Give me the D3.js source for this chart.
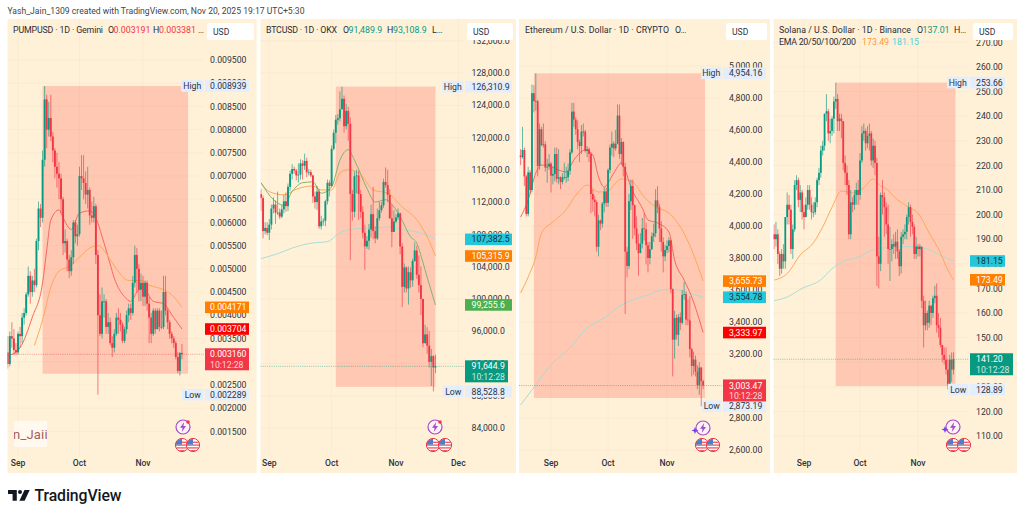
<!DOCTYPE html>
<html><head><meta charset="utf-8">
<script src="https://cdn.jsdelivr.net/npm/d3@7/dist/d3.min.js"></script>
<style>
html,body{margin:0;padding:0;background:#fff;overflow:hidden}
svg{display:block}
text{font-family:Roboto,"Liberation Sans",sans-serif}
</style></head><body><svg id="c" width="1024" height="517"></svg>
<script>
// ---------- data ----------
// PUMP prices in thousandths of a dollar
const pumpOpen0 = 3.2;
const pumpClose = [2.95,3.55,3.50,3.25,3.20,3.60,3.55,3.95,4.05,4.45,4.85,4.50,4.75,4.65,5.60,6.30,6.10,7.35,8.65,8.0,8.25,7.85,7.55,7.2,7.05,6.95,6.50,5.55,5.60,5.20,4.95,5.25,6.00,5.70,5.75,7.00,6.95,6.85,6.60,6.70,6.15,6.10,6.35,5.30,4.00,3.60,4.30,4.30,3.75,3.85,3.40,3.30,3.60,3.95,3.90,3.80,3.45,3.70,4.00,4.15,4.05,4.70,5.30,5.00,4.55,4.70,4.40,4.70,4.25,3.95,3.60,4.10,3.70,4.10,3.75,3.75,4.50,4.10,3.85,3.60,3.50,3.40,3.10,2.80,3.19,3.16];
const pumpHigh = [3.55,3.65,3.85,3.7,3.4,3.65,3.75,4.05,4.15,4.5,5.05,4.95,4.85,5.0,5.65,6.45,6.4,7.55,8.939,8.75,8.6,8.75,7.95,7.6,7.5,7.3,7.05,6.55,5.85,5.65,5.3,5.4,6.05,6.05,5.95,7.2,7.45,7.45,7.1,7.2,6.75,6.45,6.55,6.4,5.4,4.45,4.6,4.45,4.35,4.05,3.95,3.55,3.7,4.05,4.15,4.05,3.85,3.75,4.1,4.25,4.25,4.85,5.5,5.45,5.1,4.9,4.85,4.75,4.75,4.4,4.05,4.15,4.15,4.15,4.15,4.1,4.85,4.85,4.15,3.9,3.65,3.55,3.45,3.2,3.2,3.38];
const pumpLow = [2.85,2.9,3.3,3.15,3.15,3.15,3.3,3.4,3.8,4.0,4.4,4.25,4.4,4.5,4.6,5.4,5.9,6.0,7.2,7.6,7.85,7.75,7.3,6.95,6.75,6.5,6.2,5.3,5.35,4.95,4.8,4.85,5.1,5.55,5.5,5.7,6.7,6.5,6.4,6.3,5.95,6.0,6.0,5.1,2.289,3.55,3.5,3.95,3.6,3.6,3.35,3.1,3.2,3.55,3.6,3.65,3.4,3.4,3.6,3.85,3.9,4.0,4.6,4.5,4.3,4.3,4.2,4.2,4.1,3.4,3.4,3.55,3.6,3.7,3.65,3.7,3.7,4.0,3.7,3.5,3.4,3.3,3.05,2.75,2.7,3.05];
const pumpRedDays = [-4,1,7,12,14,16,20,22,26,30,35,38,41,45,47,52,55,58,61,66,71,76,80];
const pumpRedVals = [3.14,3.3,3.96,4.7,5.4,6.05,6.27,6.1,5.85,6.2,6.25,6.1,5.7,5.1,4.8,4.4,4.3,4.5,4.6,4.3,4.25,3.95,3.704];
const pumpOrangeDays = [8,12,16,20,25,30,35,39,45,48,54,60,64,71,76,80];
const pumpOrangeVals = [3.35,3.9,4.6,4.95,5.05,5.25,5.45,5.5,5.2,5.0,4.75,4.75,4.65,4.55,4.4,4.171];
const pumpTicks = [1.5,2,2.5,3,3.5,4,4.5,5,5.5,6,6.5,7,7.5,8,8.5,9,9.5];

// BTC prices in thousands of dollars
const btcOpen0 = 113;
const btcClose = [112.5,108.4,108.8,108.2,109.2,111.2,111.7,110.7,110.7,110.2,111.1,112.1,111.5,113.9,115.5,116.1,115.9,115.3,115.4,116.8,116.5,117.1,115.7,115.7,115.3,112.7,112.0,113.3,109.0,109.6,109.7,112.1,114.4,114.0,118.6,120.6,122.2,122.4,123.5,124.8,121.4,123.3,121.7,113.0,110.8,115.2,115.3,113.0,110.8,108.2,106.5,107.2,108.6,110.5,108.4,107.5,110.0,111.0,111.6,114.5,114.1,112.9,110.0,108.3,109.6,110.1,110.6,106.5,101.5,103.9,101.3,103.3,102.3,104.7,106.0,103.0,101.7,100.0,94.5,95.6,94.2,92.2,92.9,91.5,91.64];
const btcHigh = [113.6,112.8,109.5,109.5,109.9,111.7,112.6,112.2,113.3,111.2,111.6,112.9,113.2,114.3,115.9,116.7,116.4,116.1,116.8,117.3,117.2,118.0,117.5,116.1,116.0,115.4,113.3,114.0,113.6,110.3,110.0,112.3,114.8,114.7,119.0,121.0,122.8,122.9,125.7,126.31,125.2,124.2,123.8,122.5,113.5,115.8,116.0,115.9,113.5,111.5,109.2,107.8,109.3,111.7,113.9,109.0,111.2,112.0,112.0,114.9,116.3,116.0,113.6,111.7,111.0,110.5,111.2,110.7,106.9,104.4,104.0,104.0,103.9,105.0,107.0,106.6,105.4,104.0,99.8,96.8,96.5,96.0,93.8,93.0,93.1];
const btcLow = [110.9,107.5,108.0,107.9,107.3,108.6,110.6,109.3,110.4,109.9,110.0,110.6,110.8,110.9,113.4,114.8,115.5,114.7,114.4,114.8,114.8,116.0,115.1,115.3,115.1,111.9,111.2,111.0,108.7,108.6,109.1,109.0,111.7,112.7,113.9,118.4,119.3,121.6,122.0,123.8,120.6,121.0,119.6,104.8,109.7,110.1,113.1,109.8,110.0,107.5,103.6,106.2,106.1,107.6,107.4,106.9,107.3,109.7,110.7,111.3,113.8,112.0,109.9,106.4,108.4,109.4,109.8,105.5,99.0,100.8,100.8,99.3,101.4,101.5,104.6,102.5,100.8,98.0,94.0,94.9,93.2,91.5,89.2,88.53,90.8];
const btcGreenDays = [-4,2,7,11,16,21,25,30,34,38,41,47,51,56,60,63,68,71,74,76,80];
const btcGreenVals = [114.4,112.3,111.6,113.3,114.4,114.5,113.1,113.9,117.2,118.5,117.2,113.7,112,112.3,111.4,110.2,107.7,106.9,104.5,102.7,99.26];
const btcOrangeDays = [-4,0,7,13,21,25,30,34,38,44,50,57,64,71,76,80];
const btcOrangeVals = [114.4,113.3,112.9,113.6,114,113.5,113.5,115.6,116,115.4,113.5,113.1,111.4,109.8,107.7,105.32];
const btcTealDays = [-4,4,11,20,28,34,42,50,58,66,74,80];
const btcTealVals = [105,105.6,106.3,106.9,107.1,108.2,108.7,108.8,108.9,108.5,108.1,107.38];
const btcTicks = [84,88,92,96,100,104,108,112,116,120,124,128,132];

// ETH prices in dollars
const ethOpen0 = 4440;
const ethClose = [4430,4475,4310,4075,4335,4225,4830,4780,4780,4375,4605,4505,4510,4365,4370,4390,4315,4325,4450,4295,4305,4275,4305,4305,4305,4345,4460,4715,4665,4605,4525,4500,4590,4590,4470,4480,4450,4200,4165,4150,3870,4035,4015,4140,4215,4145,4350,4490,4515,4485,4515,4690,4450,4525,4370,3840,3750,4155,4250,4130,3985,3890,3830,3890,3985,3980,3880,3800,3855,3935,3955,4160,4120,3985,3900,3810,3850,3875,3910,3605,3290,3425,3320,3430,3395,3570,3575,3415,3410,3230,3125,3165,3090,3005,3115,3030,3003];
const ethHigh = [4480,4620,4490,4320,4370,4350,4885,4880,4954,4790,4640,4620,4640,4530,4420,4450,4400,4370,4490,4490,4480,4310,4330,4395,4370,4390,4480,4770,4770,4680,4660,4540,4630,4640,4600,4500,4490,4460,4230,4190,4160,4070,4040,4150,4240,4240,4360,4510,4590,4530,4600,4760,4760,4550,4530,4395,3870,4200,4290,4290,4135,4060,3950,3955,4050,4080,4020,3900,3900,3960,4015,4230,4250,4140,4030,3930,3880,3910,3930,3915,3610,3470,3445,3450,3460,3600,3650,3590,3540,3560,3240,3215,3190,3130,3150,3120,3040];
const ethLow = [4380,4420,4250,4060,4060,4200,4210,4710,4720,4310,4350,4500,4490,4340,4270,4350,4210,4260,4280,4270,4260,4230,4260,4290,4270,4280,4320,4450,4620,4570,4480,4400,4450,4560,4460,4430,4400,4080,4090,4060,3840,3810,3975,3990,4085,4120,4120,4330,4440,4430,4470,4510,4420,4380,4310,3450,3680,3730,4100,3920,3940,3850,3690,3840,3860,3910,3760,3710,3760,3850,3900,3930,4080,3900,3840,3710,3780,3830,3835,3580,3060,3170,3290,3250,3350,3385,3540,3380,3380,3180,3060,3070,3060,2980,2945,2873.19,2980];
const ethRedDays = [-16,-12,-8,-5,-2,4,8,12,18,22,25,28,33,37,39,42,48,51,56,62,65,70,74,80];
const ethRedVals = [4056,4163,4331,4381,4381,4350,4338,4412,4475,4444,4306,4244,4331,4394,4350,4244,4112,4038,4019,3963,3788,3662,3556,3334];
const ethOrangeDays = [-16,-12,-8,-5,1,7,14,19,25,29,37,43,49,55,62,69,74,80];
const ethOrangeVals = [3581,3681,3806,3956,4025,4088,4206,4256,4213,4213,4294,4275,4181,4119,4081,3975,3850,3656];
const ethTealDays = [-16,-12,-8,1,9,19,28,37,43,51,58,64,70,80];
const ethTealVals = [2881,2944,3006,3144,3225,3363,3425,3506,3538,3569,3600,3606,3588,3555];
const ethTicks = [2600,2800,3000,3200,3400,3600,3800,4000,4200,4400,4600,4800,5000];

// SOL prices in dollars
const solOpen0 = 192;
const solClose = [190,192,184,178,184,181,199,204,202,186,194,212,214,206,209,201,199,204,210,204,201,201,205,214,217,226,228,241,242,233,234,239,246,247,238,239,238,221,217,212,192,205,204,208,210,208,222,233,234,229,232,233,222,228,221,183,180,208,207,203,196,186,186,188,187,189,185,179,191,192,193,199,203,197,195,184,187,186,187,165,155,160,156,163,160,166,167,155,154,147,143,141,137,131,141,137,141.2];
const solHigh = [196,197,194,185,186,188,199,209,208,204,196,214,216,215,212,210,204,207,212,212,207,205,207,215,219,228,230,241,249,243,239,240,248,253.66,249,241,241,238,224,220,214,210,207,210,213,214,225,236,237,235,236,237,234,231,230,223,191,209,214,209,205,204,195,190,192,193,194,186,193,194,196,200,205,204,200,196,191,188,188,186,167,165,161,165,163,167,171,172,160,158,147,146,146,141,143,144,144];
const solLow = [186,187,180,175,176,178,178,196,196,184,182,193,210,203,201,198,194,199,202,202,198,199,200,203,212,215,224,226,238,230,229,232,233,243,234,234,231,218,212,208,190,190,201,202,204,204,206,221,230,226,227,226,220,219,216,171,170,177,200,191,192,180,173,181,184,182,182,175,176,188,190,190,196,191,192,182,182,183,183,162,146,153,153,154,155,158,164,152,150,146,140,139,135,128.89,131,132,135];
const solOrangeDays = [-16,-9,-2,5,10,15,20,26,32,37,41,43,50,56,61,67,73,76,80];
const solOrangeVals = [173.4,176,183.6,188.5,195,203,209.6,208.8,211,214.5,211.6,211,206,203,200.6,192.5,184.4,179,173.49];
const solTealDays = [-16,-9,-1,9,15,21,29,37,48,57,66,74,80];
const solTealVals = [165,166.5,170,173.5,178,181,182.6,185.7,186.8,187,186,183,181.15];
const solTicks = [110,120,130,140,150,160,170,180,190,200,210,220,230,240,250,260,270];

const monthNames = ["Sep","Oct","Nov","Dec"];
const monthDays = [0,30,61,91];

const fmtPump = v => (v/1000).toFixed(6);
const fmtBtc = v => d3.format(",.1f")(v*1000);
const fmtUsd = d3.format(",.2f");

const UP="#089981", DOWN="#f23645", ORANGE="#ff7f00", TEAL="#26c6da", PURERED="#ff0000", GREEN="#4caf50";
const EMA_RED="#f6685e", EMA_ORANGE="#ffa75a", EMA_TEAL="#a9dcd6", EMA_GREEN="#7fb56f";

// ---------- layout per panel ----------
const panels = [
 {name:"pump",L:7.5,R:256.7,plotR:204,xSep:18,xNov:143,cal:[1.5,431.3,9.5,60],start:"2025-08-27",open0:pumpOpen0,close:pumpClose,high:pumpHigh,low:pumpLow,
  ticks:pumpTicks,fmt:fmtPump,tickL:210,months:3,bw:1.9,
  lines:[[pumpRedDays,pumpRedVals,EMA_RED],[pumpOrangeDays,pumpOrangeVals,EMA_ORANGE]],
  rect:{d0:12.2,d1:83.2,top:8.939,bot:2.74},
  tagL:205,tagR:249,longR:249,
  tags:[[4.171,ORANGE],[3.704,PURERED]],
  hi:[8.939,"0.008939",181],lo:[2.289,"0.002289",182],
  last:[3.16,"0.003160",DOWN],
  usd:[207,254],icon:[183,427,0],flags:[182,193],
  title:[["PUMPUSD · 1D · Gemini",13,"#2a2e39",90],["O",108,"#2a2e39"],["0.003191",113.5,DOWN],["H",153,"#2a2e39"],["0.003381",159,DOWN],["…",198,"#2a2e39"]]},
 {name:"btc",L:260.5,R:516,plotR:464,xSep:269.3,xNov:396,cal:[84,428,128,73],start:"2025-08-28",open0:btcOpen0,close:btcClose,high:btcHigh,low:btcLow,
  ticks:btcTicks,fmt:fmtBtc,tickL:471.5,months:4,bw:1.9,
  lines:[[btcTealDays,btcTealVals,EMA_TEAL],[btcOrangeDays,btcOrangeVals,EMA_ORANGE],[btcGreenDays,btcGreenVals,EMA_GREEN]],
  rect:{d0:32.9,d1:80.9,top:126.31,bot:89.1},
  tagL:465,tagR:512,longR:508,
  tags:[[107.3825,TEAL],[105.3159,ORANGE],[99.2556,GREEN]],
  hi:[126.31,"126,310.9",442],lo:[88.5288,"88,528.8",443],
  last:[91.6449,"91,644.9",UP],
  usd:[467,513],icon:[435,427,0],flags:[433,445],
  title:[["BTCUSD · 1D · OKX",266,"#2a2e39",71],["O",343,"#2a2e39"],["91,489.9",348.5,UP],["H",387,"#2a2e39"],["93,108.9",393,UP],["L…",432,"#2a2e39"]]},
 {name:"eth",L:519,R:770,plotR:722,xSep:551,xNov:667,cal:[2600,450,5000,66],start:"2025-08-16",open0:ethOpen0,close:ethClose,high:ethHigh,low:ethLow,
  ticks:ethTicks,fmt:fmtUsd,tickL:729,months:3,bw:1.75,
  lines:[[ethTealDays,ethTealVals,EMA_TEAL],[ethOrangeDays,ethOrangeVals,EMA_ORANGE],[ethRedDays,ethRedVals,EMA_RED]],
  rect:{d0:-9,d1:81,top:4954.16,bot:2925},
  tagL:723,tagR:766,longR:766,
  tags:[[3655.73,ORANGE],[3554.78,TEAL],[3333.97,PURERED]],
  hi:[4954.16,"4,954.16",701],lo:[2873.19,"2,873.19",702],
  last:[3003.47,"3,003.47",DOWN],
  usd:[726,767],icon:[703,428,1],flags:[702,713],
  title:[["Ethereum / U.S. Dollar · 1D · CRYPTO",525,"#2a2e39",144],["O…",675,"#2a2e39"]]},
 {name:"sol",L:773.5,R:1017,plotR:969,xSep:804,xNov:918,cal:[110,436,260,67],start:"2025-08-16",open0:solOpen0,close:solClose,high:solHigh,low:solLow,
  ticks:solTicks,fmt:fmtUsd,tickL:976,months:3,bw:1.75,
  lines:[[solTealDays,solTealVals,EMA_TEAL],[solOrangeDays,solOrangeVals,EMA_ORANGE]],
  rect:{d0:17,d1:81.2,top:253.66,bot:130.3},
  tagL:970,tagR:1005,longR:1013,
  tags:[[181.15,TEAL],[173.49,ORANGE]],
  hi:[253.66,"253.66",947],lo:[128.89,"128.89",948],
  last:[141.2,"141.20",UP],
  usd:[973,1013],icon:[953,427,1],flags:[953,964],
  title:[["Solana / U.S. Dollar · 1D · Binance",779,"#2a2e39",132],["O",917,"#2a2e39"],["137.01",922.5,UP],["H…",954,"#2a2e39"]],
  title2:[["EMA 20/50/100/200",779,"#2a2e39",77],["173.49",862,"#ff9a3c"],["181.15",892,"#4fd0e0"]]}
];

const svg = d3.select("#c");
const TOP=19, BOT=473, BG="#fff1d8", GRID="#f7e8ce", TXT="#2e3340";
const sep1 = new Date(Date.UTC(2025,8,1));
const fs = 8.7;

svg.append("text").attr("x",7.5).attr("y",13.5).attr("font-size",8.6).attr("fill","#444")
   .attr("textLength",297).text("Yash_Jain_1309 created with TradingView.com, Nov 20, 2025 19:17 UTC+5:30");

panels.forEach((p,pi)=>{
  const g = svg.append("g");
  g.append("rect").attr("x",p.L).attr("y",TOP).attr("width",p.R-p.L).attr("height",BOT-TOP).attr("fill",BG);
  const x = d3.scaleUtc().domain([sep1,d3.utcDay.offset(sep1,61)]).range([p.xSep,p.xNov]);
  const y = d3.scaleLinear().domain([p.cal[0],p.cal[2]]).range([p.cal[1],p.cal[3]]);
  const day = d => x(d3.utcDay.offset(sep1,d));
  const clipId="clip"+pi;
  svg.append("clipPath").attr("id",clipId).append("rect").attr("x",p.L).attr("y",TOP).attr("width",p.plotR-p.L).attr("height",BOT-TOP-18);

  // grid
  g.append("g").selectAll("line").data(p.ticks).join("line")
    .attr("x1",p.L).attr("x2",p.plotR).attr("y1",d=>y(d)).attr("y2",d=>y(d)).attr("stroke",GRID).attr("stroke-width",.8);
  g.append("g").selectAll("line").data(monthDays.slice(0,p.months)).join("line")
    .attr("x1",day).attr("x2",day).attr("y1",TOP).attr("y2",BOT-18).attr("stroke",GRID).attr("stroke-width",.8);

  const plot = g.append("g").attr("clip-path",`url(#${clipId})`);
  // highlighted rectangle
  plot.append("rect").attr("x",day(p.rect.d0)).attr("width",day(p.rect.d1)-day(p.rect.d0))
    .attr("y",y(p.rect.top)).attr("height",y(p.rect.bot)-y(p.rect.top)).attr("fill","rgba(255,127,112,.36)");

  // EMA lines
  const lg = d3.line().x(d=>day(d[0])).y(d=>y(d[1])).curve(d3.curveMonotoneX);
  p.lines.forEach(([ds,vs,col])=>{
    plot.append("path").attr("d",lg(d3.zip(ds,vs))).attr("fill","none").attr("stroke",col).attr("stroke-width",1);
  });

  // candles
  const start = d3.utcParse("%Y-%m-%d")(p.start);
  const rows = p.close.map((c,i)=>({d:d3.utcDay.offset(start,i),o:i?p.close[i-1]:p.open0,c,h:p.high[i],l:p.low[i]}));
  const cg = plot.append("g").selectAll("g").data(rows).join("g");
  const col = d=>d.c>=d.o?UP:DOWN;
  cg.append("line").attr("x1",d=>x(d.d)).attr("x2",d=>x(d.d)).attr("y1",d=>y(d.h)).attr("y2",d=>y(d.l))
    .attr("stroke",col).attr("stroke-width",.9).attr("opacity",.7);
  cg.append("rect").attr("x",d=>x(d.d)-p.bw/2).attr("width",p.bw)
    .attr("y",d=>y(Math.max(d.o,d.c))).attr("height",d=>Math.max(.8,Math.abs(y(d.o)-y(d.c)))).attr("fill",col);

  // last price dotted line
  g.append("line").attr("x1",p.L).attr("x2",p.plotR).attr("y1",y(p.last[0])).attr("y2",y(p.last[0]))
    .attr("stroke",p.last[2]).attr("stroke-width",.8).attr("stroke-dasharray","1 1.2").attr("opacity",.6);

  // price axis labels
  g.append("g").selectAll("text").data(p.ticks).join("text")
    .attr("x",p.tickL).attr("y",d=>y(d)+3.2).attr("font-size",fs).attr("fill",TXT).text(p.fmt);

  // time axis labels
  g.append("g").selectAll("text").data(monthDays.slice(0,p.months)).join("text")
    .attr("x",day).attr("y",466).attr("text-anchor","middle").attr("font-size",8.6).attr("font-weight",500).attr("fill",TXT)
    .text((d,i)=>monthNames[i]);

  // High / Low tags
  [["High",p.hi],["Low",p.lo]].forEach(([w,a])=>{
    const yy=y(a[0]);
    g.append("rect").attr("x",a[2]).attr("y",yy-5.8).attr("width",p.tagL-1.5-a[2]).attr("height",11.6).attr("fill","#e3edfb");
    g.append("text").attr("x",(a[2]+p.tagL-1.5)/2).attr("y",yy+3.1).attr("text-anchor","middle").attr("font-size",fs).attr("fill",TXT).text(w);
    g.append("rect").attr("x",p.tagL).attr("y",yy-5.8).attr("width",p.tagR-p.tagL).attr("height",11.6).attr("fill","#e3edfb");
    g.append("text").attr("x",p.tickL).attr("y",yy+3.1).attr("font-size",fs).attr("fill",TXT).text(a[1]);
  });

  // indicator value tags
  p.tags.forEach(([v,c])=>{
    const yy=y(v);
    g.append("rect").attr("x",p.tagL).attr("y",yy-5.8).attr("width",p.tagR-p.tagL).attr("height",11.6).attr("fill",c);
    g.append("text").attr("x",p.tickL).attr("y",yy+3.1).attr("font-size",fs)
      .attr("fill",c===TEAL?"#12303a":"#fff").text(p.fmt(v));
  });

  // last price tag (two lines)
  const ly=y(p.last[0]);
  g.append("rect").attr("x",p.tagL).attr("y",ly-6).attr("width",p.longR-p.tagL).attr("height",22).attr("fill",p.last[2]);
  g.append("text").attr("x",p.tickL).attr("y",ly+3.1).attr("font-size",fs).attr("fill","#fff").text(p.last[1]);
  g.append("text").attr("x",p.tickL).attr("y",ly+13.3).attr("font-size",fs).attr("fill","#fff").attr("opacity",.78).text("10:12:28");

  // USD button
  g.append("rect").attr("x",p.usd[0]).attr("y",23).attr("width",p.usd[1]-p.usd[0]).attr("height",17).attr("rx",2.5).attr("fill","#fff");
  g.append("text").attr("x",p.usd[0]+6).attr("y",34.8).attr("font-size",8.6).attr("fill",TXT).text("USD");

  // legend titles
  const tt=g.append("g").attr("font-size",8.8);
  const put=(yy)=>([s,xx,c,w])=>{const t=tt.append("text").attr("x",xx).attr("y",yy).attr("fill",c).text(s); if(w) t.attr("textLength",w);};
  p.title.forEach(put(32.8));
  if(p.title2) p.title2.forEach(put(44.8));

  // icons
  const [ix,iy,spark]=p.icon;
  const ic=g.append("g");
  ic.append("circle").attr("cx",ix).attr("cy",iy).attr("r",7).attr("fill","#fdf3f4").attr("stroke","#a64bc8").attr("stroke-width",1.2);
  ic.append("path").attr("transform",`translate(${ix},${iy})`).attr("d","M1.2,-5 L-3,0.8 L-0.4,0.8 L-1.2,5 L3,-1 L0.4,-1 Z").attr("fill","#a64bc8");
  if(spark){ic.append("path").attr("transform",`translate(${ix-8},${iy+2.5})`).attr("d","M0,-3.5 L1,-1 L3.5,0 L1,1 L0,3.5 L-1,1 L-3.5,0 L-1,-1 Z").attr("fill","#7b3ff2");}
  else{ic.append("circle").attr("cx",ix+5).attr("cy",iy-5).attr("r",1.8).attr("fill","#f23645");}
  [p.flags[0], p.flags[1]===undefined?p.flags[0]+11:p.flags[1]].forEach((fx,i)=>{
    const fg=g.append("g").attr("transform",`translate(${fx},445)`);
    const fid=`fc${pi}_${i}`;
    svg.append("clipPath").attr("id",fid).append("circle").attr("r",6.2);
    const f=fg.append("g").attr("clip-path",`url(#${fid})`);
    f.append("rect").attr("x",-7).attr("y",-7).attr("width",14).attr("height",14).attr("fill","#fff");
    [-3.4,-0.6,2.2,5].forEach(yy=>f.append("rect").attr("x",-7).attr("y",yy).attr("width",14).attr("height",1.4).attr("fill","#f0606a"));
    f.append("rect").attr("x",-7).attr("y",-7).attr("width",7).attr("height",6.6).attr("fill","#4a7fc9");
    fg.append("circle").attr("r",6.6).attr("fill","none").attr("stroke","#f23645").attr("stroke-width",1);
  });
});

// watermark fragment in the first panel
svg.append("clipPath").attr("id","wm").append("rect").attr("x",14).attr("y",421).attr("width",33).attr("height",26);
svg.append("rect").attr("x",14).attr("y",421).attr("width",33).attr("height",26).attr("fill","#fff").attr("opacity",.6);
svg.append("text").attr("clip-path","url(#wm)").attr("x",13).attr("y",439).attr("font-size",13).attr("fill","#a4605c").attr("letter-spacing",.2).text("n_Jaii");

// TradingView logo
const logo=svg.append("g").attr("transform","translate(8,490)");
logo.append("path").attr("d","M0,0 H8.8 V10.8 H4.6 V4 H0 Z").attr("fill","#131722");
logo.append("circle").attr("cx",12).attr("cy",2).attr("r",2).attr("fill","#131722");
logo.append("path").attr("d","M16.5,0 H21.7 L16.6,10.8 H11.4 Z").attr("fill","#131722");
svg.append("text").attr("x",34.5).attr("y",500.5).attr("font-size",15.8).attr("font-weight",500).attr("fill","#131722").attr("font-family","Inter,Roboto,sans-serif").attr("textLength",87).text("TradingView");
</script></body></html>
